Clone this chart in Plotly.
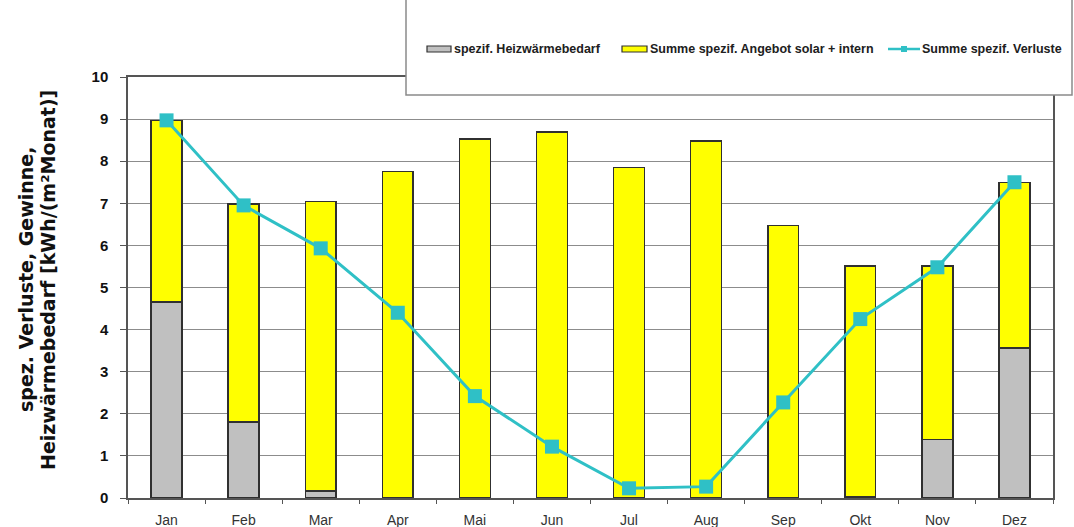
import plotly.graph_objects as go

# Monthly specific values in kWh/(m²·Monat)
months = ["Jan", "Feb", "Mar", "Apr", "Mai", "Jun", "Jul", "Aug", "Sep", "Okt", "Nov", "Dez"]
heizwaermebedarf = [4.66, 1.81, 0.17, 0, 0, 0, 0, 0, 0, 0.04, 1.39, 3.56]
angebot_solar_intern = [4.31, 5.17, 6.87, 7.75, 8.53, 8.69, 7.85, 8.48, 6.47, 5.47, 4.12, 3.94]
verluste = [8.97, 6.95, 5.93, 4.40, 2.42, 1.22, 0.23, 0.27, 2.27, 4.25, 5.48, 7.50]

y_ticks = list(range(0, 11))

legend_names = [
    "spezif. Heizwärmebedarf",
    "Summe spezif. Angebot solar + intern",
    "Summe spezif. Verluste",
]
y_title_lines = ["spez. Verluste, Gewinne,", "Heizwärmebedarf [kWh/(m²Monat)]"]

W, H = 1074, 527
ML, MR, MT, MB = 128, 21, 77, 29
PW, PH = W - ML - MR, H - MT - MB

GRAY = "#c0c0c0"
YELLOW = "#ffff00"
TEAL = "#2fc0c6"
OUTLINE = "#303030"
FONT = "Liberation Sans, Arial, sans-serif"
TITLE_FONT = "DejaVu Sans, sans-serif"


def px(x):
    return (x - ML) / PW


def py(y):
    return (H - MB - y) / PH


fig = go.Figure()

fig.add_trace(go.Bar(
    x=months, y=heizwaermebedarf, name=legend_names[0],
    marker=dict(color=GRAY, line=dict(color=OUTLINE, width=1.5)),
    width=0.4, showlegend=False,
))
fig.add_trace(go.Bar(
    x=months, y=angebot_solar_intern, name=legend_names[1],
    marker=dict(color=YELLOW, line=dict(color=OUTLINE, width=1.5)),
    width=0.4, showlegend=False,
))
fig.add_trace(go.Scatter(
    x=months, y=verluste, name=legend_names[2], mode="lines+markers",
    line=dict(color=TEAL, width=3),
    marker=dict(symbol="square", size=14, color=TEAL),
    showlegend=False,
))

shapes = []
annotations = []

# Legend box (white, covering the top edge of the plot frame)
shapes.append(dict(
    type="rect", xref="paper", yref="paper", layer="above",
    x0=px(406), x1=px(1072), y0=py(95), y1=py(-10),
    fillcolor="white", line=dict(color="#8a8a8a", width=1.5),
))

ly = 49
# gray swatch
shapes.append(dict(
    type="rect", xref="paper", yref="paper", layer="above",
    x0=px(427), x1=px(451), y0=py(ly + 3), y1=py(ly - 3),
    fillcolor=GRAY, line=dict(color=OUTLINE, width=1.2),
))
# yellow swatch
shapes.append(dict(
    type="rect", xref="paper", yref="paper", layer="above",
    x0=px(622), x1=px(647), y0=py(ly + 3), y1=py(ly - 3),
    fillcolor=YELLOW, line=dict(color=OUTLINE, width=1.2),
))
# line swatch with marker
shapes.append(dict(
    type="line", xref="paper", yref="paper", layer="above",
    x0=px(888), x1=px(920), y0=py(ly), y1=py(ly),
    line=dict(color=TEAL, width=2.5),
))
shapes.append(dict(
    type="rect", xref="paper", yref="paper", layer="above",
    x0=px(901), x1=px(907), y0=py(ly + 3), y1=py(ly - 3),
    fillcolor=TEAL, line=dict(width=0),
))

for name, x0 in zip(legend_names, [452, 648, 920]):
    annotations.append(dict(
        text=name, xref="paper", yref="paper", x=px(x0), y=py(ly),
        xanchor="left", yanchor="middle", showarrow=False,
        font=dict(family=FONT, size=12.5, color="#202020", weight="bold"),
    ))

# Y axis title, one annotation per line
for line_text, cx in zip(y_title_lines, [26, 48]):
    annotations.append(dict(
        text=line_text, xref="paper", yref="paper", x=px(cx), y=py(280),
        xanchor="center", yanchor="middle", showarrow=False, textangle=-90,
        font=dict(family=TITLE_FONT, size=19, color="#111111", weight="bold"),
    ))

fig.update_layout(
    width=W, height=H,
    margin=dict(l=ML, r=MR, t=MT, b=MB, pad=0),
    paper_bgcolor="white", plot_bgcolor="white",
    barmode="stack",
    shapes=shapes, annotations=annotations,
    font=dict(family=FONT),
)

fig.update_xaxes(
    range=[-0.5, 11.5], automargin=False,
    showline=True, linecolor="#555555", linewidth=1.5, mirror=True,
    ticks="outside", ticklen=4, tickcolor="#555555", tickson="boundaries",
    ticklabelstandoff=8,
    tickfont=dict(family=FONT, size=14, color="#333333"),
    showgrid=False,
)
fig.update_yaxes(
    range=[0, 10], tickvals=y_ticks, automargin=False,
    showline=True, linecolor="#555555", linewidth=1.5, mirror=True,
    ticks="outside", ticklen=6, tickcolor="#555555",
    ticklabelstandoff=9,
    tickfont=dict(family=FONT, size=15, color="#111111", weight="bold"),
    showgrid=True, gridcolor="#8c8c8c", gridwidth=1.2,
    zeroline=False,
)

fig.write_html("out.html")
